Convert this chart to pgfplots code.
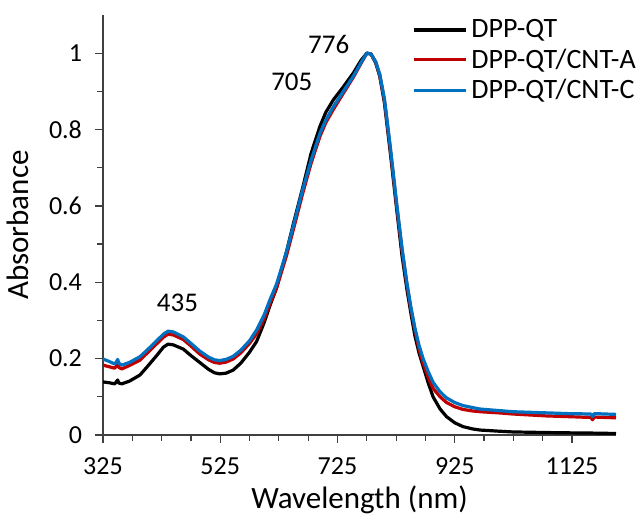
\documentclass[border=0pt]{standalone}
\usepackage{pgfplots}
\pgfplotsset{compat=1.18}
\usepackage{pgfplotstable}
\usepackage{fontspec}
\setmainfont{Carlito}

\definecolor{exred}{RGB}{192,0,0}
\definecolor{exblue}{RGB}{0,112,192}

% wavelength (nm), absorbance
\pgfplotstableread{
x y
325 0.139
335 0.137
345 0.134
348 0.140
350 0.144
352 0.136
357 0.134
370 0.141
388 0.157
400 0.178
416 0.207
428 0.230
436 0.238
445 0.236
462 0.225
475 0.208
490 0.190
505 0.172
515 0.163
524 0.160
535 0.162
547 0.170
560 0.188
575 0.217
587 0.245
600 0.295
610 0.340
621 0.385
638 0.480
650 0.555
666 0.650
680 0.738
695 0.808
705 0.845
718 0.878
735 0.912
752 0.948
765 0.981
775 1.000
782 0.998
790 0.975
797 0.940
805 0.870
815 0.740
826 0.590
835 0.470
843 0.385
850 0.320
857 0.260
864 0.215
871 0.180
880 0.135
888 0.100
900 0.068
911 0.048
925 0.032
939 0.022
955 0.016
968 0.013
1000 0.010
1024 0.008
1100 0.006
1160 0.005
1200 0.004
}\dppqt

\pgfplotstableread{
x y
325 0.183
335 0.179
345 0.175
348 0.181
350 0.186
352 0.177
357 0.173
370 0.182
388 0.196
400 0.214
416 0.238
428 0.256
436 0.264
445 0.262
462 0.250
475 0.233
490 0.212
505 0.197
515 0.190
524 0.188
535 0.191
547 0.199
560 0.215
575 0.240
587 0.265
600 0.305
610 0.345
621 0.385
638 0.470
650 0.540
666 0.635
680 0.712
695 0.782
705 0.818
718 0.853
735 0.895
752 0.937
765 0.973
775 1.000
782 0.998
790 0.977
797 0.943
805 0.877
815 0.750
826 0.600
835 0.485
843 0.398
850 0.332
857 0.276
864 0.225
871 0.188
880 0.150
888 0.122
900 0.100
911 0.085
925 0.074
939 0.067
955 0.063
968 0.061
1000 0.058
1024 0.055
1081 0.050
1120 0.048
1157 0.046
1160 0.040
1163 0.047
1200 0.045
}\cnta

\pgfplotstableread{
x y
325 0.199
335 0.193
345 0.186
348 0.192
350 0.198
352 0.188
357 0.183
370 0.190
388 0.205
400 0.222
416 0.246
428 0.264
436 0.272
445 0.270
462 0.257
475 0.240
490 0.220
505 0.204
515 0.197
524 0.195
535 0.198
547 0.206
560 0.222
575 0.247
587 0.275
600 0.315
610 0.355
621 0.395
638 0.480
650 0.550
666 0.645
680 0.720
695 0.790
705 0.825
718 0.860
735 0.900
752 0.940
765 0.975
775 1.000
782 0.998
790 0.978
797 0.945
805 0.880
815 0.755
826 0.605
835 0.490
843 0.402
850 0.336
857 0.280
864 0.235
871 0.200
880 0.165
888 0.138
900 0.113
911 0.097
925 0.085
939 0.077
955 0.072
968 0.068
1000 0.064
1024 0.061
1081 0.058
1120 0.056
1157 0.055
1160 0.048
1163 0.056
1200 0.054
}\cntc

\begin{document}
\begin{tikzpicture}
\useasboundingbox (0,0) rectangle (320pt,257pt);
\begin{axis}[
  at={(51.5pt,39.5pt)}, anchor=south west,
  scale only axis,
  width=256.5pt, height=210pt,
  xmin=325, xmax=1200,
  ymin=0, ymax=1.1,
  axis x line*=bottom, axis y line*=left,
  axis line style={-, black!75, line width=0.6pt},
  xtick={325,525,725,925,1125},
  minor x tick num=3,
  ytick={0,0.2,0.4,0.6,0.8,1},
  yticklabels={0,0.2,0.4,0.6,0.8,1},
  minor y tick num=1,
  tick align=outside,
  major tick length=4pt, minor tick length=3pt,
  tick style={black!75, line width=0.6pt},
  font=\fontsize{13}{15}\selectfont,
  /pgf/number format/assume math mode=true,
  xticklabel style={/pgf/number format/1000 sep={}, yshift=-4pt},
  yticklabel style={xshift=-3pt},
  xlabel={Wavelength (nm)},
  ylabel={Absorbance},
  label style={font=\fontsize{15.5}{17}\selectfont},
  xlabel style={yshift=1.5pt},
  ylabel style={yshift=3.5pt},
  legend style={draw=none, fill=none, at={(0.602,1.0)}, anchor=north west,
    inner sep=0pt, row sep=0pt, font=\fontsize{14}{15}\selectfont,
    /tikz/every even column/.append style={column sep=0pt}},
  legend cell align=left,
  legend image code/.code={\draw[#1] (0pt,0pt) -- (26pt,0pt);},
  every axis plot/.append style={line width=1.6pt, line join=round},
]
\addplot[black] table {\dppqt};
\addlegendentry{DPP-QT}
\addplot[exred] table {\cnta};
\addlegendentry{DPP-QT/CNT-A}
\addplot[exblue] table {\cntc};
\addlegendentry{DPP-QT/CNT-C}

\node[font=\fontsize{13.5}{15}\selectfont] at (axis cs:452,0.345) {435};
\node[font=\fontsize{13.5}{15}\selectfont] at (axis cs:647,0.924) {705};
\node[font=\fontsize{13.5}{15}\selectfont] at (axis cs:710,1.024) {776};
\end{axis}
\end{tikzpicture}
\end{document}
